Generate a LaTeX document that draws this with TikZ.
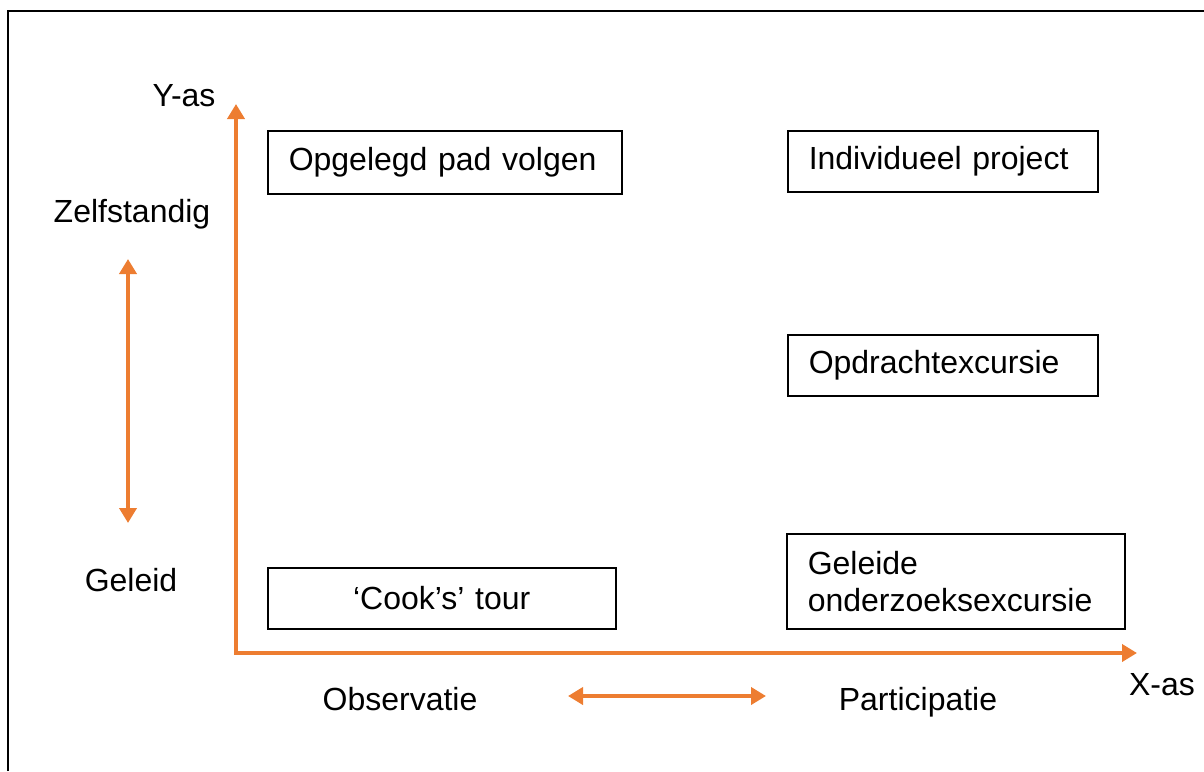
\documentclass[tikz,border=0pt]{standalone}
\usepackage{fontspec}
\setmainfont{Liberation Sans}
\usepackage{tikz}
\usetikzlibrary{arrows.meta}
\definecolor{asoranje}{RGB}{237,125,49}

\begin{document}
\begin{tikzpicture}[x=0.5pt, y=-0.5pt,
  every node/.style={font=\fontsize{16}{18.4}\selectfont, inner sep=0pt},
  kader/.style={draw, line width=0.75pt, anchor=north west, inner xsep=10.5pt, inner ysep=0pt, align=left},
  pijl/.style={draw=asoranje, line width=2.3pt, line join=miter,
    {Triangle[length=7.5pt,width=8.5pt]}-{Triangle[length=7.5pt,width=8.5pt]}}]
\useasboundingbox (0,0) rectangle (1204,771);
\draw[line width=0.9pt] (8,771) -- (8,11) -- (1204,11);

\coordinate (ytop) at (236,104);
\coordinate (oorsprong) at (236,653);
\coordinate (xeind) at (1137,653);
\coordinate (zboven) at (128,259);
\coordinate (gonder) at (128,523);
\coordinate (olinks) at (568,696);
\coordinate (prechts) at (766,696);

\node[anchor=base] (yas) at (184,106) {Y-as};
\node[anchor=base] (xas) at (1162,695) {X-as};
\node[anchor=base] (zelf) at (132,222) {Zelfstandig};
\node[anchor=base] (geleid) at (131,591) {Geleid};
\node[anchor=base] (obs) at (400,710) {Observatie};
\node[anchor=base] (part) at (918,710) {Participatie};

\node[kader, text width=156pt, minimum height=31.5pt] (opgelegd) at (267,130) {Opgelegd pad volgen};
\node[kader, text width=134pt, minimum height=30.5pt] (individueel) at (787,130) {Individueel project};
\node[kader, text width=134pt, minimum height=30.5pt] (opdracht) at (787,334) {Opdrachtexcursie};
\node[kader, text width=148pt, minimum height=47.5pt] (geleide) at (786,533) {Geleide\\onderzoeksexcursie};
\node[kader, text width=153pt, minimum height=30.5pt, align=center] (cook) at (267,567) {‘Cook’s’ tour};

\draw[pijl] (ytop) -- (oorsprong) -- (xeind);
\draw[pijl] (zboven) -- (gonder);
\draw[pijl] (olinks) -- (prechts);
\end{tikzpicture}
\end{document}
